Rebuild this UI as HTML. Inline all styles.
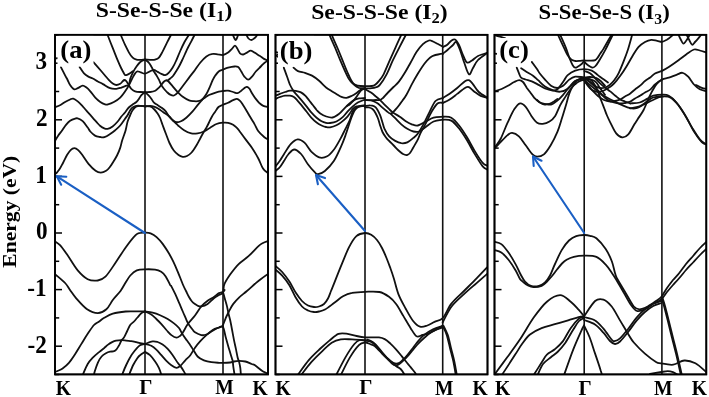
<!DOCTYPE html><html><head><meta charset="utf-8"><style>html,body{margin:0;padding:0;background:#fff;}svg{display:block;filter:blur(0.3px)}</style></head><body>
<svg width="709" height="397" viewBox="0 0 709 397" font-family="'Liberation Serif', serif" font-weight="bold">
<rect width="709" height="397" fill="#fff"/>
<defs><clipPath id="clipa"><rect x="55.0" y="34.8" width="213.0" height="339.59999999999997"/></clipPath><clipPath id="clipb"><rect x="275.5" y="34.8" width="212.0" height="339.59999999999997"/></clipPath><clipPath id="clipc"><rect x="494.5" y="34.8" width="211.79999999999995" height="339.59999999999997"/></clipPath></defs>
<g clip-path="url(#clipa)" fill="none" stroke="#111" stroke-width="1.8" stroke-linejoin="round" stroke-linecap="round">
<path d="M60.9,67.1C61.6,68.5 64.0,73.1 65.1,75.3C66.2,77.5 66.8,78.4 67.6,80.0C68.4,81.6 69.0,83.5 70.1,85.0C71.1,86.5 72.6,88.7 73.9,89.2C75.2,89.7 76.2,88.8 77.7,88.2C79.2,87.6 81.2,85.8 82.7,85.7C84.2,85.6 85.2,86.7 86.5,87.6C87.8,88.5 88.8,89.6 90.3,91.3C91.8,93.0 93.6,95.8 95.3,97.6C97.0,99.4 98.7,100.9 100.3,102.0C101.9,103.1 103.7,103.9 105.0,104.3C106.3,104.7 106.5,104.8 108.0,104.4C109.5,104.0 111.9,103.1 113.9,102.0C115.9,100.9 118.3,99.4 120.2,97.6C122.1,95.8 123.8,93.4 125.2,91.3C126.6,89.2 128.0,87.3 128.8,85.2C129.7,83.1 129.7,80.6 130.3,78.5C131.0,76.4 131.7,74.8 132.7,72.8C133.7,70.8 135.2,68.3 136.5,66.5C137.8,64.7 138.9,63.2 140.3,62.0C141.7,60.8 144.2,59.9 145.0,59.5"/>
<path d="M107.6,35.0C108.4,37.1 110.9,43.4 112.6,47.6C114.3,51.8 116.2,56.8 117.6,60.2C119.0,63.6 120.1,66.0 121.1,68.0C122.1,70.0 122.8,71.3 123.5,72.5C124.2,73.7 124.5,74.8 125.2,75.1C125.9,75.4 126.7,74.9 127.5,74.6C128.3,74.3 129.1,73.8 130.0,73.2C130.9,72.7 132.2,71.6 132.7,71.3"/>
<path d="M79.6,67.1C80.3,68.1 82.5,71.8 84.0,73.4C85.5,75.0 86.9,75.8 88.4,76.6C89.9,77.4 91.2,77.7 92.8,78.5C94.4,79.3 96.1,80.6 97.8,81.5C99.5,82.4 100.9,83.0 102.9,84.1C105.0,85.2 107.8,87.4 110.1,88.2C112.3,89.0 114.5,88.9 116.4,88.8C118.3,88.7 119.7,88.1 121.4,87.6C123.1,87.1 125.2,86.1 126.4,85.7C127.6,85.3 128.0,86.1 128.8,85.2C129.6,84.3 130.4,82.0 131.2,80.5C132.0,79.0 132.8,77.3 133.5,76.0C134.2,74.7 134.8,73.6 135.5,72.8C136.2,72.0 136.7,71.4 137.5,71.3C138.3,71.2 139.1,71.7 140.3,72.1C141.6,72.5 143.4,73.8 145.0,73.7C146.6,73.6 148.5,71.9 150.0,71.3C151.5,70.7 152.5,69.9 153.8,70.0C155.1,70.1 156.3,71.3 157.6,71.9C158.9,72.5 160.1,73.3 161.4,73.8C162.7,74.3 163.9,75.3 165.2,75.1C166.4,74.9 167.7,73.9 168.9,72.6C170.2,71.3 171.5,69.4 172.7,67.5C173.9,65.6 174.8,63.7 176.0,61.0C177.2,58.3 178.6,54.7 180.0,51.5C181.4,48.3 183.0,44.8 184.5,42.0C186.0,39.2 188.1,36.2 188.8,35.0"/>
<path d="M93.4,62.1C94.1,62.9 96.4,65.5 97.8,67.1C99.2,68.7 100.4,70.1 101.6,71.5C102.8,72.9 103.8,74.1 105.0,75.5C106.2,76.9 107.7,78.7 109.0,80.1C110.3,81.5 111.9,82.9 113.1,83.7C114.3,84.5 115.2,85.0 116.4,85.0C117.6,85.0 119.2,84.4 120.2,83.8C121.2,83.2 122.0,81.9 122.7,81.3C123.4,80.7 123.6,80.0 124.2,80.0C124.8,80.0 125.4,80.1 126.2,81.0C127.0,81.9 128.0,83.9 128.8,85.2C129.7,86.5 130.2,87.8 131.3,88.8C132.4,89.8 133.6,90.8 135.1,91.3C136.6,91.8 138.5,91.9 140.2,92.0C141.8,92.1 143.3,92.1 145.0,92.1C146.7,92.1 148.5,92.2 150.2,92.0C151.9,91.8 153.8,91.4 155.3,90.7C156.8,90.0 157.9,88.6 159.0,87.6C160.1,86.6 160.8,85.5 161.6,84.5C162.4,83.5 163.3,82.2 164.1,81.5C164.9,80.8 165.7,80.3 166.4,80.3C167.1,80.3 167.4,80.5 168.5,81.5C169.6,82.5 171.2,84.6 172.7,86.4C174.2,88.2 176.0,90.4 177.7,92.1C179.4,93.8 180.9,95.4 182.8,96.8C184.7,98.2 187.2,99.6 189.1,100.3C191.0,101.0 192.5,101.0 194.0,101.2C195.5,101.4 196.8,101.4 198.0,101.2C199.2,101.0 200.2,100.6 201.4,100.0C202.6,99.4 203.9,98.3 205.2,97.5C206.5,96.7 207.1,95.9 209.0,95.0C210.9,94.1 214.1,93.0 216.4,92.3C218.7,91.6 221.1,91.3 223.0,91.0C224.9,90.7 226.4,90.5 228.1,90.7C229.8,90.9 231.5,91.6 233.1,92.0C234.7,92.4 236.1,93.4 237.5,93.2C238.9,93.0 240.0,91.6 241.3,90.7C242.6,89.8 244.2,88.2 245.1,87.6C246.0,87.0 246.3,86.7 247.0,86.9C247.7,87.1 248.7,87.8 249.5,88.8C250.3,89.8 250.9,91.5 252.0,93.2C253.1,94.9 254.5,97.2 255.8,98.9C257.1,100.6 258.4,102.2 259.6,103.3C260.9,104.4 261.9,105.2 263.3,105.8C264.7,106.4 267.2,106.9 268.0,107.1"/>
<path d="M120.8,35.0C121.5,36.7 123.8,42.2 125.2,45.1C126.6,48.0 127.8,50.5 129.0,52.6C130.2,54.7 131.4,56.5 132.7,57.7C133.9,58.9 135.0,59.2 136.5,59.6C138.0,60.0 140.2,59.8 141.6,59.8C143.0,59.8 143.6,59.5 145.0,59.5C146.4,59.5 148.4,59.8 150.1,59.8C151.8,59.8 153.6,60.0 155.1,59.6C156.6,59.2 157.6,59.1 158.9,57.7C160.2,56.3 161.4,53.7 162.7,51.4C163.9,49.1 165.0,46.5 166.4,43.8C167.8,41.1 170.2,36.5 170.9,35.0"/>
<path d="M145.0,59.5C145.6,60.0 147.8,61.5 148.8,62.7C149.9,63.9 150.5,65.0 151.3,66.5C152.2,68.0 153.1,70.0 153.9,71.5C154.8,73.0 155.6,73.9 156.4,75.3C157.2,76.7 158.1,78.0 158.9,79.7C159.7,81.4 160.6,83.7 161.4,85.2C162.2,86.7 163.0,87.7 163.9,88.8C164.8,89.9 165.9,91.1 167.0,92.1C168.1,93.1 169.0,94.0 170.2,94.6C171.4,95.2 172.8,95.8 174.0,95.5C175.2,95.2 176.2,94.2 177.7,92.6C179.2,91.0 180.9,88.5 182.8,86.0C184.7,83.5 187.1,80.3 189.1,77.6C191.1,74.9 193.2,72.5 195.0,70.0C196.8,67.5 198.3,65.0 200.2,62.7C202.1,60.4 204.3,57.9 206.4,56.4C208.5,54.9 210.8,54.2 212.7,53.9C214.6,53.5 216.1,54.1 217.8,54.3C219.5,54.5 221.3,55.3 223.0,55.0C224.7,54.7 226.6,53.6 228.1,52.6C229.6,51.6 230.8,50.0 231.9,48.9C233.1,47.8 234.1,45.7 235.0,45.7C235.9,45.7 236.7,47.6 237.5,48.9C238.3,50.2 239.1,52.4 240.0,53.3C240.9,54.2 242.0,54.6 243.2,54.5C244.4,54.4 245.8,53.2 247.0,52.6C248.2,52.0 249.4,50.7 250.7,50.7C251.9,50.7 253.0,51.8 254.5,52.6C256.0,53.5 258.0,54.8 259.6,55.8C261.2,56.8 262.6,58.1 264.0,58.9C265.4,59.7 267.3,60.5 268.0,60.8"/>
<path d="M194.5,35.0C194.0,36.0 192.4,39.2 191.3,41.3C190.2,43.4 189.1,45.4 188.0,47.5C186.9,49.6 186.0,51.8 185.0,54.0C184.0,56.2 183.0,58.4 182.0,60.5C181.0,62.6 180.0,64.7 179.0,66.5C178.0,68.3 177.0,69.9 176.0,71.5C175.0,73.1 174.0,74.8 173.0,76.0C172.0,77.2 171.0,77.8 170.2,78.5C169.4,79.2 168.6,79.9 168.0,80.2C167.4,80.5 166.7,80.3 166.4,80.3"/>
<path d="M232.5,34.0C232.8,34.8 234.0,37.5 234.5,38.5C235.0,39.5 235.2,40.0 235.6,40.0C236.0,40.0 236.3,39.5 236.8,38.5C237.3,37.5 238.1,34.8 238.4,34.0"/>
<path d="M246.0,34.0C246.4,34.8 247.6,37.5 248.5,38.5C249.4,39.5 250.5,40.0 251.4,40.0C252.3,40.0 253.3,39.0 254.0,38.5C254.7,38.0 255.2,37.6 255.8,36.9C256.4,36.1 257.5,34.5 257.9,34.0"/>
<path d="M268.0,60.8C267.4,61.1 265.8,61.8 264.6,62.7C263.4,63.7 262.3,65.0 260.8,66.5C259.3,68.0 257.3,69.8 255.8,71.5C254.3,73.2 253.3,75.2 252.0,76.6C250.7,78.0 249.5,79.7 248.2,79.7C246.9,79.7 245.6,78.0 244.4,76.6C243.2,75.2 242.3,73.1 241.3,71.5C240.3,69.9 239.3,67.9 238.2,67.1C237.0,66.3 236.1,66.4 234.4,66.5C232.7,66.6 230.0,67.2 228.1,67.7C226.2,68.2 224.5,69.0 223.0,69.6C221.5,70.2 220.3,70.2 219.0,71.2C217.7,72.2 216.4,74.0 215.3,75.5C214.2,77.0 213.4,78.7 212.5,80.5C211.6,82.3 211.0,84.2 210.0,86.5C209.0,88.8 207.8,91.6 206.4,94.0C205.0,96.4 202.9,98.9 201.4,100.7C199.9,102.5 199.1,103.3 197.6,105.1C196.1,106.9 194.5,109.3 192.6,111.4C190.7,113.5 188.2,116.1 186.3,117.7C184.4,119.3 182.6,120.5 181.0,121.2C179.4,122.0 177.9,122.4 176.5,122.2C175.1,122.0 173.9,121.2 172.7,120.2C171.4,119.2 170.2,117.8 169.0,116.2C167.8,114.7 166.5,112.3 165.3,110.9C164.1,109.5 162.8,108.7 161.6,107.7C160.3,106.8 159.1,106.0 157.8,105.2C156.5,104.4 155.1,103.8 154.0,102.7C152.9,101.7 152.4,100.2 151.5,98.9C150.6,97.6 149.4,96.2 148.3,95.1C147.2,94.0 145.6,92.6 145.0,92.1"/>
<path d="M145.0,106.3C145.9,106.2 148.7,106.0 150.2,106.0C151.7,106.0 152.7,106.2 154.0,106.6C155.3,107.0 156.5,107.6 158.0,108.5C159.5,109.4 161.2,110.7 163.0,112.0C164.8,113.3 167.3,114.8 169.0,116.2C170.7,117.6 171.5,119.0 173.0,120.5C174.5,122.0 176.0,123.6 177.8,125.2C179.7,126.8 181.8,128.8 184.1,130.2C186.3,131.6 189.1,132.9 191.3,133.4C193.6,133.9 195.5,133.7 197.6,133.4C199.7,133.1 201.8,132.4 203.9,131.5C206.0,130.6 208.1,128.9 210.2,127.7C212.3,126.5 214.4,124.8 216.5,124.0C218.6,123.2 220.9,122.9 222.8,122.7C224.7,122.5 226.4,122.5 228.1,122.8C229.8,123.1 231.6,123.8 233.1,124.7C234.6,125.6 235.8,126.9 236.9,127.9C238.0,129.0 238.0,129.1 239.4,131.0C240.8,132.9 243.5,136.6 245.6,139.4C247.7,142.2 249.8,144.6 251.9,147.7C254.0,150.8 256.3,154.7 258.2,158.2C260.1,161.7 261.4,166.1 263.0,168.6C264.6,171.1 267.2,172.3 268.0,173.1"/>
<path d="M268.0,139.4C267.4,139.1 266.0,138.7 264.4,137.3C262.8,135.9 259.8,133.2 258.2,131.0C256.6,128.8 255.8,126.3 254.5,124.1C253.2,121.9 251.9,119.9 250.7,117.8C249.4,115.7 248.2,113.6 247.0,111.5C245.8,109.4 244.4,107.0 243.2,105.2C242.0,103.4 241.1,101.8 240.0,100.8C238.9,99.8 238.1,99.0 236.9,98.9C235.8,98.8 234.6,99.6 233.1,100.2C231.6,100.8 229.8,101.9 228.1,102.7C226.4,103.5 224.6,104.1 223.0,104.8C221.4,105.5 219.8,105.8 218.5,107.0C217.2,108.2 216.1,110.4 215.0,112.0C213.9,113.6 213.0,114.8 212.0,116.5C211.0,118.2 209.9,120.6 209.0,122.5C208.1,124.4 207.3,126.0 206.4,127.7C205.5,129.4 204.3,131.0 203.3,132.8C202.3,134.6 201.3,136.4 200.2,138.5C199.0,140.6 197.8,143.2 196.4,145.5C195.0,147.8 193.2,150.8 191.6,152.5C190.0,154.2 188.5,155.3 187.0,156.0C185.5,156.7 184.1,157.0 182.7,156.8C181.3,156.6 180.0,156.1 178.5,155.0C177.0,153.9 175.3,152.5 173.8,150.5C172.3,148.5 170.8,145.8 169.5,143.0C168.2,140.2 167.2,137.0 166.0,134.0C164.8,131.0 163.6,127.7 162.6,125.0C161.6,122.3 160.9,119.9 160.1,118.0C159.3,116.1 158.6,115.0 157.6,113.5C156.6,112.0 155.2,110.2 153.9,109.0C152.7,107.8 151.6,107.0 150.1,106.5C148.6,106.0 145.8,106.3 145.0,106.3"/>
<path d="M145.0,106.3C144.2,106.2 141.6,105.8 140.2,105.8C138.8,105.8 137.7,105.7 136.4,106.4C135.1,107.1 133.7,108.7 132.6,110.2C131.5,111.7 130.9,113.4 130.1,115.3C129.3,117.2 128.3,119.1 127.6,121.6C126.9,124.0 126.3,127.7 125.7,130.0C125.1,132.3 124.6,133.4 124.0,135.2C123.4,137.0 122.6,138.9 122.0,141.0C121.4,143.1 121.0,145.5 120.2,147.9C119.4,150.3 118.2,153.2 117.0,155.5C115.8,157.8 114.5,160.0 113.2,162.0C112.0,164.0 110.7,166.0 109.5,167.5C108.3,169.0 107.5,170.0 106.1,170.8C104.6,171.7 102.5,172.6 100.8,172.6C99.0,172.6 97.6,172.3 95.6,170.8C93.5,169.3 90.8,166.5 88.5,163.8C86.2,161.1 83.7,156.8 82.0,154.5C80.3,152.2 79.5,151.2 78.2,150.1C76.9,149.0 75.7,148.2 74.4,148.2C73.1,148.2 71.8,148.9 70.6,150.1C69.3,151.3 68.2,153.1 66.9,155.2C65.7,157.3 64.4,160.3 63.1,162.7C61.8,165.1 60.5,167.8 59.3,169.6C58.1,171.4 56.5,172.9 56.0,173.6"/>
<path d="M145.0,92.1C144.4,92.6 142.4,94.0 141.4,95.1C140.4,96.2 139.7,97.8 138.9,98.9C138.1,100.1 137.5,101.1 136.4,102.0C135.3,102.9 133.9,103.6 132.6,104.5C131.3,105.4 130.1,106.2 128.8,107.5C127.5,108.8 126.2,111.0 125.0,112.5C123.8,114.0 122.6,115.0 121.4,116.5C120.2,118.0 119.2,119.8 117.7,121.5C116.2,123.2 114.3,125.3 112.6,126.5C110.9,127.7 109.1,128.6 107.6,128.9C106.1,129.2 105.1,128.7 103.8,128.2C102.5,127.7 101.0,126.5 100.0,125.7C99.0,124.9 99.0,124.8 97.8,123.5C96.6,122.2 94.5,119.7 92.8,117.8C91.1,115.9 89.4,114.0 87.7,112.1C86.0,110.2 84.4,108.2 82.7,106.4C81.0,104.6 79.3,102.7 77.7,101.4C76.1,100.1 74.6,98.9 73.3,98.6C72.0,98.3 71.5,98.9 70.1,99.5C68.7,100.1 66.8,101.0 65.1,102.0C63.4,103.0 61.7,104.4 60.0,105.2C58.3,106.0 55.8,106.8 55.0,107.1"/>
<path d="M55.0,140.9C55.5,140.1 56.8,137.8 58.0,136.0C59.2,134.2 61.1,131.9 62.4,130.0C63.7,128.1 64.7,126.3 66.0,124.8C67.3,123.3 68.6,121.8 70.1,120.8C71.6,119.8 73.9,119.0 75.2,118.6C76.5,118.2 76.5,118.0 77.7,118.4C79.0,118.8 81.0,119.7 82.7,121.2C84.4,122.7 86.4,125.8 87.7,127.5C89.0,129.2 89.1,130.2 90.3,131.5C91.5,132.8 93.4,134.7 95.0,135.6C96.6,136.5 98.4,136.7 100.0,137.0C101.6,137.3 102.7,137.7 104.4,137.2C106.1,136.7 108.3,135.2 110.1,134.0C111.9,132.8 113.5,131.6 115.2,130.2C116.9,128.8 118.5,127.5 120.2,125.5C121.9,123.5 124.0,120.2 125.2,118.5C126.5,116.8 126.9,116.3 127.7,115.0C128.5,113.7 129.3,111.8 130.1,110.5C130.9,109.2 131.5,108.3 132.6,107.5C133.7,106.7 135.1,106.2 136.4,105.9C137.7,105.6 138.8,105.7 140.2,105.8C141.6,105.9 144.2,106.2 145.0,106.3"/>
<path d="M55.0,241.4C55.8,242.0 57.9,242.9 60.0,245.2C62.1,247.5 64.6,251.1 67.6,255.3C70.5,259.5 74.3,266.4 77.7,270.4C81.1,274.4 84.4,277.5 87.7,279.2C91.0,280.9 94.8,280.9 97.8,280.5C100.8,280.1 102.5,279.6 105.4,276.7C108.4,273.8 112.2,267.6 115.5,262.8C118.8,258.0 122.2,252.3 125.5,247.7C128.8,243.1 133.2,237.5 135.6,235.1C138.0,232.7 138.4,233.4 140.0,233.0C141.6,232.6 143.2,232.5 145.0,232.6C146.8,232.7 148.7,232.6 150.6,233.3C152.5,234.1 154.6,235.3 156.6,237.1C158.6,238.9 160.7,241.2 162.7,243.9C164.7,246.6 166.9,250.1 168.7,253.0C170.4,255.9 171.7,258.2 173.2,261.3C174.7,264.4 176.2,267.9 177.8,271.8C179.5,275.8 181.7,281.8 183.1,285.0C184.5,288.2 185.0,289.0 186.0,291.0C187.0,293.0 188.0,295.2 189.0,297.0C190.0,298.8 191.0,300.3 192.0,301.5C193.0,302.7 194.0,303.3 195.0,304.0C196.0,304.7 196.9,305.4 198.0,305.8C199.1,306.2 199.7,306.7 201.3,306.4C202.9,306.1 205.5,305.3 207.6,303.9C209.7,302.5 212.0,299.7 213.9,298.2C215.8,296.7 217.5,295.9 219.0,295.0C220.5,294.1 222.1,294.3 223.0,292.5C223.9,290.7 223.1,287.4 224.3,284.4C225.5,281.4 228.0,277.6 230.3,274.3C232.7,271.0 235.4,267.3 238.4,264.3C241.4,261.3 245.2,259.2 248.5,256.2C251.8,253.2 256.1,248.3 258.5,246.1C260.9,243.9 261.4,243.8 263.0,243.0C264.6,242.2 267.2,241.4 268.0,241.1"/>
<path d="M55.0,274.2C56.7,275.7 62.6,280.4 65.1,283.0C67.6,285.6 68.1,287.4 70.0,290.0C71.9,292.6 73.6,295.4 76.4,298.6C79.2,301.8 83.5,306.9 87.1,309.3C90.7,311.7 94.6,313.1 97.8,313.1C101.0,313.1 103.9,311.5 106.4,309.3C108.9,307.1 110.5,303.1 112.8,300.0C115.1,296.9 118.5,293.8 120.5,291.0C122.5,288.2 123.4,286.1 125.0,283.5C126.6,280.9 128.3,277.7 130.3,275.5C132.3,273.3 134.4,271.4 136.8,270.4C139.2,269.4 141.9,269.4 145.0,269.3C148.1,269.2 152.4,269.2 155.1,269.6C157.8,270.0 159.4,270.7 161.2,271.8C163.0,272.9 164.2,274.2 165.7,276.4C167.2,278.6 169.2,283.4 170.2,285.0C171.1,286.6 170.6,284.8 171.4,286.3C172.2,287.8 173.9,291.2 175.2,293.9C176.5,296.6 177.7,299.8 179.0,302.7C180.3,305.6 181.5,308.6 182.8,311.5C184.1,314.4 185.6,318.1 186.6,320.3C187.6,322.6 188.0,323.4 189.1,325.0C190.2,326.6 191.9,328.8 192.9,330.0C193.9,331.2 193.6,331.4 195.0,332.3C196.4,333.2 199.4,334.7 201.3,335.1C203.2,335.5 204.5,335.2 206.4,334.5C208.3,333.8 210.6,331.9 212.7,330.7C214.8,329.5 217.3,328.1 219.0,327.5C220.7,326.9 221.9,325.3 223.0,327.0C224.1,328.7 224.9,334.4 225.8,337.6C226.7,340.8 227.6,343.9 228.3,346.4C229.0,348.9 229.6,350.6 230.2,352.7C230.8,354.8 231.7,357.6 232.1,359.0C232.5,360.4 232.5,359.7 232.7,361.0C232.9,362.3 233.0,364.3 233.3,366.6C233.6,368.9 234.4,373.6 234.6,375.0"/>
<path d="M145.0,311.5C143.6,311.5 139.6,311.4 136.4,311.4C133.2,311.4 129.6,311.1 125.7,311.5C121.8,311.9 116.4,312.6 112.8,313.6C109.2,314.7 106.6,316.5 104.3,317.8C102.0,319.1 100.9,320.2 99.2,321.4C97.5,322.6 95.9,322.9 94.0,325.0C92.1,327.1 89.8,330.7 87.7,333.8C85.6,336.9 83.5,340.5 81.4,343.9C79.3,347.3 77.3,350.9 75.2,354.0C73.1,357.1 71.0,360.4 68.9,362.8C66.8,365.2 64.5,367.1 62.6,368.5C60.7,369.9 58.8,370.4 57.5,371.0C56.2,371.6 55.4,371.8 55.0,371.9"/>
<path d="M145.0,311.5C144.3,311.8 142.2,312.5 141.0,313.5C139.8,314.5 138.7,316.2 137.5,317.5C136.3,318.8 135.2,320.2 134.0,321.5C132.8,322.8 131.3,323.4 130.2,325.0C129.1,326.6 128.2,329.0 127.2,331.0C126.2,333.0 125.1,335.6 124.2,337.1C123.3,338.6 122.6,338.8 121.7,340.1C120.8,341.5 119.9,343.7 119.1,345.2C118.2,346.7 117.4,348.2 116.6,349.2C115.8,350.2 115.2,350.8 114.1,351.2C113.0,351.6 111.4,351.4 110.1,351.7C108.8,352.0 107.4,352.4 106.0,353.2C104.6,354.0 103.0,354.9 101.6,356.5C100.2,358.1 98.9,360.3 97.8,362.8C96.7,365.3 95.3,369.6 94.7,371.6C94.1,373.6 94.1,374.4 94.0,375.0"/>
<path d="M82.7,375.0C83.5,373.2 86.0,366.9 87.7,364.0C89.4,361.1 90.9,359.7 92.8,357.7C94.7,355.7 97.2,353.7 99.1,352.1C101.0,350.5 102.5,349.4 104.0,348.2C105.5,346.9 106.8,345.6 108.1,344.6C109.4,343.6 110.8,342.8 112.1,342.1C113.4,341.4 114.5,340.9 116.1,340.6C117.7,340.3 120.0,340.1 121.7,340.1C123.4,340.1 124.6,340.4 126.2,340.6C127.8,340.8 129.5,340.9 131.2,341.1C132.9,341.4 134.8,341.8 136.3,342.1C137.8,342.5 138.6,342.9 140.0,343.2C141.4,343.5 144.2,343.8 145.0,343.9"/>
<path d="M122.0,375.0C122.7,373.3 124.8,368.0 126.2,365.0C127.6,362.0 128.8,359.5 130.2,357.2C131.5,354.9 132.7,353.2 134.3,351.2C135.9,349.2 138.2,346.4 140.0,345.2C141.8,344.0 144.2,344.1 145.0,343.9"/>
<path d="M129.0,375.0C129.7,373.3 131.8,367.8 133.2,365.0C134.6,362.2 136.2,359.8 137.3,358.2C138.4,356.6 138.7,356.2 140.0,355.2C141.3,354.1 144.2,352.4 145.0,351.9"/>
<path d="M145.0,311.5C146.3,311.7 150.1,312.1 152.6,312.7C155.1,313.3 157.6,314.2 160.1,315.3C162.6,316.4 165.4,317.6 167.7,319.0C170.0,320.4 172.1,321.9 174.0,323.4C175.9,324.9 177.6,326.3 179.0,328.0C180.4,329.7 180.9,331.8 182.2,333.8C183.5,335.8 185.2,338.2 186.6,340.1C187.9,342.0 189.2,343.5 190.3,345.2C191.5,346.9 192.3,348.3 193.5,350.2C194.7,352.1 195.9,354.8 197.6,356.5C199.3,358.2 201.6,359.4 203.9,360.3C206.2,361.2 208.9,361.8 211.4,362.2C213.9,362.6 217.1,362.7 219.0,362.8C220.9,362.9 220.7,362.9 222.6,362.8C224.5,362.8 228.3,362.7 230.2,362.5C232.1,362.3 232.5,361.8 234.0,361.5C235.5,361.2 237.1,360.9 239.0,360.9C240.9,360.9 243.2,361.0 245.3,361.5C247.4,362.0 250.0,363.4 251.6,364.0C253.2,364.6 253.1,364.0 255.0,365.3C256.9,366.6 260.9,370.2 263.1,371.6C265.3,373.0 267.2,373.2 268.0,373.5"/>
<path d="M145.0,311.5C146.1,312.0 149.4,313.4 151.3,314.6C153.2,315.9 154.6,317.4 156.3,319.0C158.0,320.6 159.7,322.3 161.4,324.1C163.1,325.9 164.7,328.2 166.4,330.0C168.1,331.8 169.7,333.8 171.4,335.1C173.1,336.4 175.0,337.5 176.5,337.6C178.0,337.7 179.2,336.5 180.3,335.7C181.4,334.9 181.6,334.5 182.8,332.6C184.1,330.7 185.8,327.0 187.8,324.1C189.8,321.2 192.8,318.4 195.0,315.5C197.2,312.6 199.2,308.9 201.3,306.4C203.4,303.9 205.5,302.3 207.6,300.7C209.7,299.1 212.0,298.2 213.9,296.9C215.8,295.6 217.5,293.9 219.0,293.1C220.5,292.3 222.1,292.4 223.0,291.9C223.9,291.4 224.3,290.3 224.6,290.0"/>
<path d="M145.0,343.9C146.1,344.2 149.4,344.9 151.3,345.8C153.2,346.8 154.6,348.0 156.3,349.6C158.0,351.2 159.7,353.3 161.4,355.2C163.1,357.1 164.7,359.2 166.4,360.9C168.1,362.6 169.7,364.1 171.4,365.3C173.1,366.5 175.0,367.7 176.5,367.8C178.0,367.9 178.8,367.1 180.3,365.9C181.8,364.6 183.6,362.1 185.3,360.3C187.0,358.5 188.7,357.3 190.3,355.2C191.9,353.1 193.4,350.0 195.0,347.7C196.6,345.4 198.2,343.5 200.1,341.4C202.0,339.3 204.3,337.0 206.4,335.1C208.5,333.2 210.6,331.3 212.7,330.0C214.8,328.7 217.3,328.1 219.0,327.5C220.7,326.9 222.3,326.5 223.0,326.3"/>
<path d="M145.0,343.9C146.3,343.5 150.5,341.7 152.6,341.4C154.7,341.1 155.9,341.5 157.6,342.0C159.3,342.5 160.9,343.4 162.6,344.5C164.3,345.6 166.0,347.1 167.7,348.9C169.4,350.7 171.0,352.9 172.7,355.2C174.4,357.5 176.4,361.0 177.7,362.8C179.0,364.6 179.2,364.4 180.3,365.9C181.4,367.4 183.1,370.1 184.0,371.6C184.9,373.1 185.6,374.4 185.9,375.0"/>
<path d="M145.0,351.9C145.8,352.4 148.3,353.6 150.0,355.2C151.7,356.8 153.6,359.4 155.1,361.5C156.6,363.6 157.8,365.6 158.9,367.8C160.0,370.1 161.0,373.8 161.4,375.0"/>
<path d="M268.0,274.0C266.8,274.8 263.2,277.4 261.0,279.0C258.8,280.6 257.4,281.8 255.0,283.8C252.6,285.9 249.3,289.0 246.6,291.3C243.9,293.6 241.2,295.5 239.0,297.6C236.8,299.7 234.9,301.8 233.3,303.9C231.7,306.0 230.4,308.7 229.6,310.2C228.8,311.7 228.9,311.4 228.3,312.7C227.7,314.0 226.5,316.1 225.8,317.8C225.1,319.5 224.4,321.5 223.9,322.8C223.4,324.1 223.0,325.1 222.8,325.5"/>
<path d="M223.0,292.0C223.4,293.4 224.5,297.7 225.2,300.1C225.9,302.5 226.5,304.3 227.0,306.4C227.5,308.5 227.8,310.4 228.3,312.7C228.8,315.0 229.6,317.4 230.2,320.3C230.8,323.2 231.5,326.7 232.1,330.0C232.7,333.3 233.4,337.0 234.0,340.1C234.6,343.2 235.3,346.0 235.9,348.9C236.5,351.8 237.2,355.6 237.7,357.7C238.2,359.8 238.6,359.8 239.0,361.5C239.4,363.2 240.0,365.6 240.3,367.8C240.6,370.1 240.8,373.8 240.9,375.0"/>
<path d="M55.0,58.5L58.0,58.2"/>
</g>
<g clip-path="url(#clipb)" fill="none" stroke="#111" stroke-width="1.8" stroke-linejoin="round" stroke-linecap="round">
<path d="M283.8,67.6C284.4,69.2 286.2,74.4 287.3,77.3C288.4,80.2 289.1,82.8 290.1,85.0C291.1,87.2 292.2,89.0 293.3,90.7C294.4,92.4 295.6,93.5 297.0,95.1C298.4,96.7 299.8,98.3 301.4,100.2C303.0,102.1 304.8,104.3 306.5,106.4C308.2,108.5 309.8,110.8 311.5,112.7C313.2,114.6 314.9,116.4 316.6,117.8C318.3,119.2 320.0,120.5 321.6,121.3C323.2,122.1 324.6,122.5 326.0,122.8C327.4,123.1 328.4,123.2 330.1,123.0C331.8,122.8 334.3,122.5 336.4,121.5C338.5,120.5 340.8,118.8 342.7,117.1C344.6,115.4 346.0,113.2 347.7,111.4C349.4,109.6 351.1,107.9 352.8,106.4C354.5,104.9 355.8,103.8 357.8,102.6C359.8,101.4 363.8,100.0 365.0,99.5"/>
<path d="M275.5,95.7C276.2,95.4 278.4,94.5 280.0,93.9C281.6,93.3 283.4,92.5 285.1,92.0C286.8,91.5 288.7,90.9 290.1,90.7C291.5,90.5 292.0,90.6 293.3,90.7C294.6,90.8 296.4,91.0 297.7,91.3C299.0,91.6 300.1,91.9 301.4,92.6C302.6,93.3 303.9,94.4 305.2,95.7C306.5,97.0 307.7,98.7 309.0,100.2C310.3,101.8 311.5,103.4 312.8,105.0C314.1,106.6 315.4,108.6 316.6,110.0C317.9,111.4 318.7,112.4 320.3,113.5C321.9,114.6 324.2,115.8 326.3,116.5C328.4,117.2 330.5,117.9 332.6,117.5C334.7,117.1 337.0,115.4 338.9,114.0C340.8,112.6 342.3,110.6 344.0,108.9C345.7,107.2 347.3,105.4 349.0,103.9C350.7,102.4 352.3,101.0 354.0,100.1C355.7,99.2 357.3,98.8 359.1,98.4C360.9,98.1 364.0,98.1 365.0,98.0"/>
<path d="M275.5,98.9C276.2,98.6 278.4,97.5 280.0,97.0C281.6,96.5 283.4,95.9 285.1,95.7C286.8,95.5 288.6,95.5 290.1,95.7C291.6,95.9 292.6,96.2 293.9,97.0C295.2,97.8 296.4,99.4 297.7,100.8C298.9,102.2 299.9,103.4 301.4,105.2C302.9,107.0 304.8,109.4 306.5,111.5C308.2,113.6 309.8,116.0 311.5,117.8C313.2,119.6 314.9,121.2 316.6,122.5C318.3,123.8 320.0,124.8 321.6,125.5C323.2,126.2 324.6,126.7 326.0,127.0C327.4,127.3 328.4,127.6 330.1,127.3C331.8,127.0 334.5,126.2 336.4,125.3C338.3,124.4 339.7,123.4 341.4,122.1C343.1,120.8 345.0,119.3 346.5,117.7C348.0,116.1 349.2,114.2 350.3,112.7C351.4,111.2 351.8,110.0 352.8,108.9C353.9,107.9 354.6,106.9 356.6,106.4C358.6,105.9 363.6,105.8 365.0,105.7"/>
<path d="M293.5,67.6C294.2,68.2 296.0,70.2 297.9,71.1C299.8,72.0 302.6,72.2 305.0,72.9C307.4,73.7 309.6,74.3 312.0,75.6C314.4,76.9 316.8,78.8 319.1,80.8C321.5,82.8 324.1,85.8 326.1,87.5C328.2,89.2 329.7,89.9 331.4,91.0C333.1,92.1 334.7,93.0 336.4,94.0C338.1,95.0 339.7,96.3 341.4,96.9C343.1,97.5 344.8,98.0 346.5,97.8C348.2,97.6 349.8,96.8 351.5,96.0C353.2,95.2 355.0,94.1 356.6,93.0C358.2,91.9 359.6,90.3 361.0,89.5C362.4,88.7 364.3,88.2 365.0,88.0"/>
<path d="M329.0,34.0C330.0,36.3 333.2,43.2 335.1,47.6C337.0,52.0 338.5,56.2 340.2,60.2C341.9,64.2 343.7,68.3 345.2,71.5C346.7,74.7 347.8,77.1 349.0,79.1C350.2,81.1 351.1,82.2 352.5,83.3C353.9,84.4 355.5,85.2 357.6,85.7C359.7,86.2 362.6,86.2 365.0,86.2C367.4,86.2 370.1,86.2 371.8,86.0C373.5,85.8 374.1,85.6 375.2,84.8C376.3,84.0 377.2,83.2 378.6,81.4C380.0,79.7 381.8,77.8 383.6,74.3C385.4,70.8 387.6,65.2 389.6,60.7C391.6,56.2 393.7,51.6 395.7,47.1C397.7,42.6 400.7,36.2 401.7,34.0"/>
<path d="M331.3,34.0C332.3,36.3 335.6,43.6 337.5,48.0C339.4,52.4 341.0,56.5 342.6,60.5C344.2,64.5 345.9,68.8 347.3,72.0C348.7,75.2 349.8,77.8 351.0,80.0C352.2,82.2 353.2,83.7 354.5,85.0C355.8,86.3 357.2,87.2 359.0,87.8C360.8,88.3 362.9,88.2 365.0,88.3C367.1,88.4 369.9,88.4 371.8,88.2C373.7,88.0 375.0,87.6 376.3,87.1C377.6,86.5 378.1,87.0 379.8,84.9C381.5,82.8 384.5,78.3 386.6,74.3C388.8,70.3 390.6,65.2 392.7,60.7C394.8,56.2 397.2,51.6 399.5,47.1C401.8,42.6 405.2,36.2 406.3,34.0"/>
<path d="M365.0,88.3C364.4,88.6 362.6,89.0 361.4,90.2C360.2,91.4 358.9,93.5 357.6,95.2C356.4,96.9 355.1,98.7 353.9,100.2C352.6,101.7 351.2,103.0 350.1,104.0C349.0,105.0 347.5,105.7 347.0,106.0"/>
<path d="M443.0,46.8C442.1,46.3 439.4,44.8 437.5,43.8C435.6,42.8 433.0,41.4 431.6,40.9C430.2,40.4 430.3,40.0 428.9,40.5C427.4,41.0 424.9,42.2 422.9,44.1C420.9,46.0 418.8,48.6 416.8,51.6C414.8,54.6 412.8,58.7 410.8,62.2C408.8,65.7 406.8,69.5 404.8,72.8C402.8,76.1 400.6,79.5 398.7,81.9C396.8,84.3 395.3,85.2 393.5,87.0C391.7,88.8 389.8,90.7 388.0,92.5C386.2,94.3 384.3,96.8 383.0,98.0C381.7,99.2 381.2,99.7 380.0,100.0C378.8,100.3 377.5,100.0 376.0,100.0C374.5,100.0 372.8,100.1 371.0,100.1C369.2,100.1 366.0,100.1 365.0,100.1"/>
<path d="M443.0,53.7C442.2,53.8 439.6,54.2 438.0,54.5C436.4,54.8 434.9,55.1 433.6,55.6C432.3,56.1 431.5,56.4 430.0,57.7C428.5,59.1 426.3,61.2 424.4,63.7C422.5,66.2 420.4,69.5 418.4,72.8C416.4,76.1 414.3,79.7 412.3,83.4C410.3,87.1 407.9,92.2 406.3,95.0C404.7,97.8 403.7,98.8 402.5,100.5C401.3,102.2 400.3,103.7 399.1,105.3C397.9,106.9 396.5,108.6 395.1,110.0C393.7,111.4 392.2,113.6 390.7,113.7C389.2,113.8 387.7,111.8 386.2,110.7C384.7,109.6 383.1,108.2 381.6,106.9C380.1,105.6 378.9,104.2 377.1,103.1C375.3,102.0 373.0,101.0 371.0,100.5C369.0,100.0 366.0,100.2 365.0,100.1"/>
<path d="M365.0,89.0C366.0,89.6 369.2,91.4 371.0,92.6C372.8,93.8 374.1,95.0 375.6,96.3C377.1,97.5 378.6,98.7 380.1,100.1C381.6,101.5 383.1,103.1 384.6,104.6C386.1,106.1 387.7,107.8 389.2,109.2C390.7,110.6 391.9,111.8 393.7,113.0C395.5,114.2 397.8,115.3 399.8,116.7C401.8,118.1 403.8,120.0 405.8,121.3C407.8,122.6 409.8,123.6 411.8,124.3C413.8,125.0 415.6,126.0 417.9,125.5C420.2,125.0 423.1,122.9 425.7,121.6C428.3,120.3 430.7,118.5 433.6,117.7C436.5,116.9 441.4,116.9 443.0,116.7"/>
<path d="M390.7,113.7C391.4,114.5 393.4,116.4 395.2,118.2C397.0,120.0 399.3,122.5 401.3,124.3C403.3,126.1 405.3,127.6 407.3,128.8C409.3,130.0 411.4,131.1 413.4,131.5C415.4,131.9 417.3,132.2 419.4,131.5C421.4,130.8 423.3,128.7 425.7,127.0C428.1,125.3 430.7,122.7 433.6,121.5C436.5,120.3 441.4,119.9 443.0,119.6"/>
<path d="M365.0,106.0C365.9,105.9 368.6,105.2 370.1,105.3C371.6,105.3 372.9,105.6 374.1,106.3C375.3,107.0 376.1,107.7 377.1,109.2C378.1,110.7 379.2,113.0 380.1,115.2C381.0,117.4 381.8,120.2 382.5,122.5C383.2,124.8 383.4,126.5 384.5,128.8C385.6,131.1 387.4,134.4 389.2,136.4C391.0,138.4 393.2,139.8 395.2,140.9C397.2,142.0 399.3,142.9 401.3,143.2C403.3,143.4 405.3,143.3 407.3,142.4C409.3,141.5 411.6,139.4 413.4,137.9C415.2,136.4 416.2,135.8 417.9,133.4C419.6,131.0 421.9,127.2 423.8,123.6C425.8,120.0 427.7,115.6 429.6,111.8C431.6,108.0 433.3,103.3 435.5,101.0C437.7,98.7 441.8,98.4 443.0,97.9"/>
<path d="M365.0,107.5C365.7,107.5 367.8,107.2 369.0,107.5C370.2,107.8 371.4,108.1 372.5,109.0C373.6,109.9 374.6,111.3 375.5,113.0C376.4,114.7 377.4,116.8 378.2,119.0C379.0,121.2 379.6,123.8 380.3,126.0C381.0,128.2 381.6,130.1 382.5,132.0C383.4,133.9 384.9,136.0 386.0,137.5C387.1,139.0 387.9,139.7 389.2,141.0C390.5,142.3 392.2,144.0 393.7,145.5C395.2,147.0 396.4,148.6 398.0,150.0C399.6,151.4 401.5,153.2 403.0,154.0C404.5,154.8 405.8,155.2 407.0,155.0C408.2,154.8 409.0,154.2 410.0,153.0C411.0,151.8 411.7,150.3 413.0,148.0C414.3,145.7 416.6,142.0 417.9,139.3C419.2,136.6 419.7,134.6 421.0,132.0C422.3,129.4 423.9,127.0 425.7,123.6C427.5,120.2 429.6,115.1 431.6,111.8C433.6,108.5 435.6,105.0 437.5,103.5C439.4,102.0 442.1,102.9 443.0,102.8"/>
<path d="M443.0,46.8C443.7,46.5 446.0,45.8 447.3,44.8C448.6,43.8 449.7,41.9 451.0,41.0C452.3,40.1 453.7,38.8 455.0,39.5C456.3,40.2 457.7,42.4 459.0,45.0C460.3,47.6 461.7,52.1 463.0,55.0C464.3,57.9 465.5,61.6 467.0,62.5C468.5,63.4 470.2,61.6 472.0,60.5C473.8,59.4 475.4,57.3 478.0,56.0C480.6,54.7 485.9,53.2 487.5,52.7"/>
<path d="M443.0,53.7C443.8,53.0 446.3,51.0 448.0,49.5C449.7,48.0 451.6,46.2 453.0,45.0C454.4,43.8 455.0,41.2 456.2,42.0C457.4,42.8 458.7,46.7 460.0,50.0C461.3,53.3 462.5,58.0 464.0,62.0C465.5,66.0 467.4,73.3 468.9,74.3C470.4,75.3 471.5,70.4 473.0,68.0C474.5,65.6 475.6,62.5 478.0,60.0C480.4,57.5 485.9,53.9 487.5,52.7"/>
<path d="M443.0,97.9C444.1,97.2 446.9,95.7 449.3,94.0C451.7,92.3 454.6,90.1 457.2,88.0C459.8,85.9 463.1,82.5 465.0,81.2C466.9,79.9 467.6,79.7 468.9,80.2C470.2,80.7 471.2,82.1 472.9,84.1C474.5,86.1 476.4,89.7 478.8,92.0C481.2,94.3 486.1,96.9 487.5,97.9"/>
<path d="M443.0,102.8C444.1,102.3 446.9,101.3 449.3,99.8C451.7,98.3 454.6,95.9 457.2,93.9C459.8,91.9 463.1,89.1 465.0,88.0C466.9,86.9 467.3,86.4 468.9,87.1C470.5,87.8 472.8,90.5 474.8,92.0C476.8,93.5 478.6,94.9 480.7,95.9C482.8,96.9 486.4,97.6 487.5,97.9"/>
<path d="M443.0,116.7C444.4,116.9 448.6,116.2 451.3,117.7C454.0,119.2 456.5,122.2 459.1,125.5C461.7,128.8 464.4,133.0 467.0,137.3C469.6,141.6 472.2,146.8 474.8,151.1C477.4,155.4 480.6,160.4 482.7,162.9C484.8,165.4 486.7,165.3 487.5,165.8"/>
<path d="M443.0,119.6C444.4,119.8 448.6,119.1 451.3,120.6C454.0,122.1 456.5,125.2 459.1,128.5C461.7,131.8 464.4,136.0 467.0,140.3C469.6,144.6 472.2,149.8 474.8,154.1C477.4,158.4 480.6,163.8 482.7,166.4C484.8,169.0 486.7,169.1 487.5,169.7"/>
<path d="M275.5,166.5C276.2,165.5 278.6,162.6 280.0,160.5C281.4,158.4 282.3,156.8 284.1,154.0C285.9,151.2 288.6,146.2 290.9,143.8C293.2,141.4 295.4,139.5 297.7,139.3C300.0,139.1 302.2,140.6 304.5,142.7C306.8,144.8 308.9,149.2 311.3,151.7C313.8,154.1 316.6,156.6 319.2,157.4C321.8,158.2 324.7,157.6 327.2,156.3C329.7,155.0 331.7,152.5 334.0,149.5C336.3,146.5 338.9,141.5 340.8,138.1C342.7,134.7 343.8,132.1 345.3,129.1C346.8,126.1 348.6,122.9 349.8,120.0C351.1,117.1 351.7,113.6 352.8,111.5C353.9,109.4 355.3,108.5 356.6,107.5C357.9,106.5 359.1,106.2 360.5,105.8C361.9,105.4 364.2,105.4 365.0,105.3"/>
<path d="M275.5,171.0C276.2,170.3 278.6,168.7 280.0,167.0C281.4,165.3 282.7,163.0 284.1,160.8C285.5,158.6 286.9,155.9 288.6,154.0C290.3,152.1 292.2,149.5 294.3,149.5C296.4,149.5 298.8,151.6 301.1,154.0C303.4,156.4 305.6,161.2 307.9,164.2C310.2,167.2 313.0,170.5 314.7,172.2C316.4,173.9 316.4,174.4 318.1,174.2C319.8,174.0 322.2,173.2 324.9,171.0C327.5,168.8 331.4,164.8 334.0,160.8C336.6,156.8 338.9,151.3 340.8,147.2C342.7,143.0 343.8,140.1 345.3,135.9C346.8,131.8 348.6,125.8 349.8,122.3C351.0,118.8 351.6,117.0 352.5,115.0C353.4,113.0 354.0,111.3 355.0,110.0C356.0,108.7 356.8,107.7 358.5,107.0C360.2,106.3 363.9,106.0 365.0,105.8"/>
<path d="M275.5,266.0C276.6,267.0 279.9,269.4 282.2,272.0C284.5,274.6 287.1,278.1 289.4,281.6C291.7,285.1 293.9,289.8 296.0,293.0C298.1,296.2 300.0,298.9 302.0,301.0C304.0,303.1 306.0,304.5 308.0,305.5C310.0,306.5 312.2,306.8 314.0,307.0C315.8,307.2 317.3,307.0 319.0,306.5C320.7,306.0 322.5,305.3 324.0,304.0C325.5,302.7 326.8,300.7 328.0,298.5C329.2,296.3 329.9,293.8 331.0,291.0C332.1,288.2 333.0,286.2 334.8,281.6C336.6,277.0 339.6,269.4 342.0,263.6C344.4,257.8 346.8,251.5 349.2,246.9C351.6,242.3 353.8,238.4 356.4,236.1C359.0,233.8 362.5,233.2 365.0,233.0C367.5,232.8 369.2,233.6 371.2,234.8C373.2,236.0 375.2,237.8 377.0,240.0C378.8,242.2 380.4,245.0 382.0,248.0C383.6,251.0 385.1,254.6 386.5,258.0C387.9,261.4 389.2,265.0 390.5,268.5C391.8,272.0 392.7,274.7 394.0,279.0C395.3,283.3 396.6,289.4 398.5,294.4C400.4,299.3 403.3,304.3 405.7,308.7C408.1,313.1 410.5,317.7 412.9,320.7C415.3,323.7 417.7,325.9 420.1,326.7C422.5,327.5 424.9,326.3 427.3,325.5C429.7,324.7 431.9,323.1 434.5,321.9C437.1,320.6 440.0,321.1 442.8,318.0C445.6,314.9 447.9,308.1 451.4,303.6C454.9,299.1 459.8,295.2 464.0,291.0C468.2,286.8 472.7,282.4 476.6,278.4C480.5,274.4 485.7,268.9 487.5,267.0"/>
<path d="M275.5,269.6C276.6,270.6 279.9,273.0 282.2,275.6C284.5,278.2 287.2,281.6 289.4,285.2C291.6,288.8 293.3,293.4 295.4,297.0C297.5,300.6 299.9,304.2 302.0,306.5C304.1,308.8 306.0,309.6 308.0,310.5C310.0,311.4 312.2,311.8 314.0,312.0C315.8,312.2 317.2,311.9 319.0,311.5C320.8,311.1 322.5,310.9 325.0,309.5C327.5,308.1 331.0,305.3 334.0,303.1C337.0,300.9 340.0,298.0 343.0,296.3C346.0,294.6 348.4,293.6 352.1,292.9C355.8,292.1 360.4,291.9 365.0,291.8C369.6,291.7 375.4,291.2 379.4,292.0C383.4,292.8 386.2,294.8 389.0,296.8C391.8,298.8 393.7,300.8 396.1,304.0C398.5,307.2 400.9,311.9 403.3,315.9C405.7,319.9 408.3,324.5 410.5,327.9C412.7,331.3 414.5,335.1 416.5,336.3C418.5,337.5 420.7,335.4 422.5,335.0C424.3,334.6 424.9,334.9 427.3,333.9C429.7,332.9 434.3,330.5 436.9,329.1C439.5,327.8 441.7,326.4 442.7,325.8"/>
<path d="M442.7,322.5C444.1,319.9 447.8,311.4 451.4,306.7C454.9,302.0 459.8,298.0 464.0,294.1C468.2,290.2 472.7,286.5 476.6,283.1C480.5,279.7 485.7,275.2 487.5,273.6"/>
<path d="M297.7,375.0C299.6,372.5 305.2,364.2 309.0,359.8C312.8,355.4 317.0,351.7 320.4,348.5C323.8,345.3 326.4,343.1 329.4,340.6C332.4,338.2 335.5,334.9 338.5,333.8C341.5,332.7 344.6,333.4 347.6,333.8C350.6,334.2 353.7,335.4 356.6,336.0C359.5,336.6 362.6,337.2 365.0,337.4C367.4,337.6 368.8,337.4 371.1,337.4C373.4,337.4 376.7,337.1 379.0,337.4C381.3,337.7 382.8,338.1 384.7,339.1C386.6,340.1 388.5,341.9 390.4,343.6C392.3,345.3 394.1,347.2 396.0,349.3C397.9,351.4 400.0,354.0 401.7,356.1C403.4,358.2 404.7,359.9 406.2,361.8C407.7,363.7 409.3,365.5 410.8,367.4C412.3,369.3 414.4,371.7 415.3,373.0C416.2,374.3 415.9,374.7 416.0,375.0"/>
<path d="M301.1,375.0C302.8,372.9 307.7,366.1 311.3,362.1C314.9,358.1 319.2,354.0 322.6,350.8C326.0,347.6 328.7,344.7 331.7,342.8C334.7,340.9 337.4,340.0 340.8,339.4C344.2,338.8 348.1,339.3 352.1,339.4C356.1,339.5 362.2,340.1 365.0,340.2C367.8,340.3 367.4,339.6 368.8,340.0C370.2,340.4 371.8,341.3 373.3,342.5C374.8,343.7 376.4,345.3 377.9,347.0C379.4,348.7 380.9,350.9 382.4,352.7C383.9,354.5 385.5,356.3 387.0,357.8C388.5,359.3 390.2,360.9 391.5,361.8C392.8,362.8 393.6,363.3 394.9,363.5C396.2,363.7 398.1,363.5 399.4,362.9C400.7,362.3 401.5,361.3 402.8,360.0C404.1,358.7 405.9,356.8 407.4,355.0C408.9,353.2 410.3,351.4 411.9,349.3C413.5,347.2 415.0,344.9 417.0,342.5C419.0,340.1 421.4,337.1 424.1,334.9C426.8,332.7 430.0,330.7 433.1,329.2C436.2,327.7 441.1,326.4 442.7,325.8"/>
<path d="M336.2,375.0C337.7,372.1 342.3,362.8 345.3,357.6C348.3,352.4 351.9,346.9 354.4,344.0C356.8,341.1 358.2,340.5 360.0,340.0C361.8,339.5 363.4,340.6 365.0,340.8C366.6,341.0 368.3,340.7 369.9,341.3C371.5,341.9 373.0,342.9 374.5,344.2C376.0,345.5 377.5,347.5 379.0,349.3C380.5,351.1 382.0,353.3 383.5,355.0C385.0,356.7 386.6,358.0 388.1,359.5C389.6,361.0 391.5,363.1 392.6,364.0C393.7,364.9 393.9,365.1 394.9,365.2C395.8,365.3 397.0,365.3 398.3,364.6C399.6,363.9 401.3,362.4 402.8,361.0C404.3,359.6 405.9,358.2 407.4,356.5C408.9,354.8 410.4,352.9 412.0,351.0C413.6,349.1 415.0,347.2 417.0,345.0C419.0,342.8 421.4,340.3 424.1,338.0C426.8,335.7 430.0,332.8 433.1,331.0C436.2,329.2 441.1,328.1 442.7,327.5"/>
<path d="M340.8,375.0C342.3,372.1 346.8,362.6 349.8,357.6C352.8,352.6 356.4,347.6 358.9,345.1C361.4,342.6 363.1,342.7 365.0,342.5C366.9,342.3 368.4,343.4 370.0,344.0C371.6,344.6 373.3,345.1 374.6,346.0C375.9,346.9 376.3,347.6 378.0,349.3C379.7,351.0 382.6,354.1 384.7,356.0C386.8,357.9 388.5,359.3 390.4,361.0C392.3,362.7 394.3,364.7 396.0,366.0C397.7,367.3 399.3,367.7 400.6,369.0C401.9,370.3 403.4,372.7 404.0,373.7C404.6,374.7 404.4,374.8 404.5,375.0"/>
<path d="M442.7,325.8C443.4,327.3 445.5,331.1 446.7,334.9C447.9,338.7 449.0,344.0 450.1,348.5C451.2,353.0 452.6,357.7 453.5,362.1C454.4,366.5 455.4,372.9 455.8,375.0"/>
<path d="M443.5,325.8C444.2,327.3 446.4,331.1 447.7,334.9C449.0,338.7 450.0,344.0 451.1,348.5C452.2,353.0 453.6,357.7 454.5,362.1C455.4,366.5 456.4,372.9 456.8,375.0"/>
<path d="M275.5,52.2L278.5,52.6"/>
<path d="M278.5,54.3C278.1,54.5 276.2,55.0 276.2,55.5C276.2,56.0 278.1,56.8 278.5,57.0"/>
</g>
<g clip-path="url(#clipc)" fill="none" stroke="#111" stroke-width="1.8" stroke-linejoin="round" stroke-linecap="round">
<path d="M516.7,67.6C517.1,68.6 518.5,72.2 519.2,73.9C519.9,75.6 520.1,76.7 521.1,77.6C522.1,78.5 523.7,78.9 525.5,79.5C527.3,80.1 529.7,80.6 531.8,81.4C533.9,82.2 535.9,83.4 538.1,84.6C540.3,85.8 542.6,87.5 545.0,88.5C547.4,89.5 550.6,90.3 552.6,90.5C554.6,90.7 555.8,90.2 557.0,89.5C558.2,88.8 558.9,87.5 560.1,86.0C561.3,84.5 562.7,82.3 564.0,80.5C565.3,78.7 565.8,76.8 567.7,75.1C569.6,73.4 572.4,71.6 575.2,70.6C578.0,69.6 581.5,69.1 584.3,69.1C587.1,69.1 589.5,69.6 591.8,70.6C594.1,71.6 595.9,73.6 597.9,75.1C599.9,76.6 602.2,78.4 603.9,79.6C605.6,80.8 607.3,82.0 608.0,82.5"/>
<path d="M521.1,68.2C522.0,68.8 524.7,70.8 526.7,72.0C528.7,73.2 531.1,74.3 533.0,75.7C534.9,77.1 536.1,78.4 538.1,80.2C540.1,82.0 542.6,84.8 545.0,86.5C547.4,88.2 550.1,89.3 552.6,90.2C555.1,91.1 557.6,92.0 560.1,91.7C562.6,91.5 565.2,90.5 567.7,88.7C570.2,87.0 573.2,82.8 575.2,81.2C577.2,79.6 578.5,79.5 580.0,79.0C581.5,78.5 583.6,78.2 584.3,78.1"/>
<path d="M531.8,61.9C532.6,63.0 535.4,66.8 536.8,68.8C538.2,70.8 538.6,72.0 540.0,73.8C541.4,75.6 543.2,77.6 545.0,79.6C546.8,81.6 549.0,84.3 551.0,85.7C553.0,87.1 555.1,88.0 557.1,88.0C559.1,88.0 561.1,87.1 563.1,85.7C565.1,84.3 567.2,81.1 569.2,79.6C571.2,78.1 572.7,77.0 575.2,76.6C577.7,76.2 581.8,77.3 584.3,77.4C586.8,77.5 588.0,76.9 590.0,77.0C592.0,77.1 594.6,77.4 596.4,78.1C598.2,78.8 599.5,79.9 600.9,81.2C602.3,82.5 604.3,85.0 605.0,85.7"/>
<path d="M495.5,91.0C496.5,90.7 499.5,89.9 501.6,89.0C503.7,88.1 505.8,87.0 507.9,85.8C510.0,84.6 512.3,82.9 514.2,82.0C516.1,81.1 517.7,80.2 519.2,80.2C520.7,80.2 521.8,80.8 523.0,82.0C524.2,83.2 525.5,85.9 526.7,87.7C528.0,89.5 529.2,91.0 530.5,92.7C531.8,94.4 532.8,96.2 534.3,97.8C535.8,99.4 537.5,101.3 539.3,102.3C541.1,103.3 543.0,103.4 545.0,103.8C547.0,104.2 549.0,105.1 551.0,104.6C553.0,104.1 555.1,102.4 557.1,100.8C559.1,99.2 561.1,97.1 563.1,94.8C565.1,92.5 567.2,89.5 569.2,87.2C571.2,84.9 572.5,82.5 575.0,81.0C577.5,79.5 582.8,78.5 584.3,78.0"/>
<path d="M557.6,34.0C558.6,36.3 562.2,44.1 563.9,47.6C565.6,51.1 566.4,53.2 567.7,55.2C569.0,57.2 570.2,58.8 571.5,59.8C572.8,60.8 573.8,60.8 575.3,61.0C576.8,61.2 578.8,60.9 580.3,60.8C581.8,60.7 582.4,60.5 584.0,60.5C585.6,60.5 588.3,60.8 590.2,60.7C592.1,60.6 594.1,60.6 595.3,60.1C596.5,59.6 596.8,58.8 597.6,57.7C598.4,56.6 599.3,55.0 600.3,53.5C601.3,52.0 602.0,51.2 603.6,48.6C605.2,46.0 608.3,40.4 609.7,38.0C611.1,35.6 611.6,34.7 612.0,34.0"/>
<path d="M559.8,34.0C560.8,36.3 564.2,43.5 565.8,47.6C567.4,51.7 568.5,55.6 569.6,58.5C570.8,61.4 571.8,63.7 572.7,65.2C573.6,66.7 574.3,67.4 575.2,67.6C576.1,67.8 576.9,67.1 578.0,66.5C579.1,65.9 580.6,64.8 581.6,64.0C582.6,63.2 583.2,61.5 584.0,61.5C584.8,61.5 585.5,63.2 586.5,64.0C587.5,64.8 589.0,65.9 590.0,66.5C591.0,67.1 591.8,67.7 592.7,67.6C593.6,67.5 594.4,67.2 595.5,66.0C596.6,64.8 597.5,63.4 599.1,60.7C600.7,58.1 603.2,53.9 605.2,50.1C607.2,46.3 609.8,40.7 611.2,38.0C612.6,35.3 613.1,34.7 613.5,34.0"/>
<path d="M495.5,146.5C496.4,145.2 498.8,142.5 500.8,138.5C502.8,134.5 505.3,127.6 507.6,122.7C509.9,117.8 512.3,112.3 514.4,109.1C516.5,105.9 518.2,103.8 520.1,103.4C522.0,103.0 523.8,104.7 525.7,106.8C527.6,108.9 529.5,113.2 531.4,115.9C533.3,118.6 535.2,121.4 537.1,122.7C539.0,124.0 540.6,124.0 542.7,123.8C544.8,123.6 547.4,122.8 549.5,121.5C551.6,120.2 553.4,118.6 555.2,115.9C557.0,113.2 558.6,108.1 560.1,105.3C561.6,102.5 562.7,101.0 564.0,99.0C565.3,97.0 566.5,95.0 567.7,93.2C569.0,91.4 570.2,89.5 571.5,88.0C572.8,86.5 574.0,85.3 575.2,84.2C576.5,83.1 577.5,82.3 579.0,81.5C580.5,80.7 583.4,79.8 584.3,79.5"/>
<path d="M495.5,147.6C496.4,146.7 498.8,144.0 500.8,141.9C502.8,139.8 505.7,136.6 507.6,135.1C509.5,133.6 510.2,132.7 512.1,132.9C514.0,133.1 516.6,134.2 518.9,136.3C521.2,138.4 523.4,142.3 525.7,145.3C528.0,148.3 530.6,152.5 532.5,154.4C534.4,156.3 535.2,156.7 537.1,156.7C539.0,156.7 541.6,156.3 543.9,154.4C546.2,152.5 548.4,149.1 550.7,145.3C553.0,141.5 555.6,136.2 557.5,131.7C559.4,127.2 560.6,122.5 562.0,118.1C563.4,113.6 564.9,108.7 566.0,105.0C567.1,101.3 567.7,98.5 568.5,96.0C569.3,93.5 569.9,92.0 570.7,90.2C571.5,88.4 572.5,86.5 573.5,85.0C574.5,83.5 575.6,82.2 576.7,81.2C577.8,80.2 578.7,79.5 580.0,79.0C581.3,78.5 582.6,78.0 584.3,78.1C586.0,78.2 588.6,78.5 590.3,79.6C592.0,80.7 593.2,82.4 594.5,84.5C595.8,86.6 597.0,89.5 598.1,92.1C599.2,94.7 600.0,97.3 601.0,100.0C602.0,102.7 603.2,105.6 604.2,108.2C605.2,110.8 606.0,113.2 607.0,115.5C608.0,117.8 608.7,119.3 610.2,122.3C611.7,125.3 614.2,130.9 616.2,133.4C618.2,135.9 620.3,137.2 622.3,137.4C624.3,137.6 626.3,136.6 628.3,134.4C630.3,132.2 632.8,126.9 634.4,124.3C636.0,121.7 636.3,121.4 637.8,119.0C639.3,116.6 641.7,113.7 643.6,110.0C645.5,106.3 647.5,100.6 649.4,96.6C651.3,92.6 653.7,88.4 655.2,86.0C656.7,83.6 657.4,83.1 658.5,82.0C659.6,80.9 661.4,80.0 662.0,79.6"/>
<path d="M537.1,100.0C537.6,100.4 538.9,101.8 540.0,102.5C541.1,103.2 542.7,104.2 543.9,104.5C545.1,104.8 545.9,104.5 547.0,104.3C548.1,104.1 549.5,103.9 550.7,103.4C551.9,102.9 552.9,102.2 554.0,101.5C555.1,100.8 556.9,99.4 557.5,99.0"/>
<path d="M584.0,80.0C585.0,80.8 588.0,83.3 590.0,85.0C592.0,86.7 593.7,88.2 596.1,90.1C598.5,91.9 601.5,94.4 604.2,96.1C606.9,97.8 609.2,98.7 612.2,100.2C615.2,101.7 619.3,103.9 622.3,105.2C625.3,106.5 627.9,107.7 630.3,108.2C632.6,108.7 634.0,108.9 636.4,108.2C638.8,107.5 641.8,105.5 644.5,104.2C647.2,102.9 649.6,101.6 652.5,100.2C655.4,98.8 660.1,96.8 661.6,96.1"/>
<path d="M678.2,34.0C678.6,34.8 679.6,37.4 680.5,39.0C681.4,40.6 682.4,43.4 683.3,43.7C684.2,44.0 685.1,42.1 686.0,41.0C686.9,39.9 687.8,38.2 688.5,37.0C689.2,35.8 689.8,34.5 690.0,34.0"/>
<path d="M686.2,34.0C686.7,34.9 688.0,37.7 689.0,39.5C690.0,41.3 691.1,44.3 692.1,44.7C693.1,45.1 694.0,43.0 695.0,42.0C696.0,41.0 696.8,40.2 697.9,38.9C699.0,37.6 701.1,34.8 701.8,34.0"/>
<path d="M630.0,103.4C631.6,103.2 636.8,103.3 639.7,102.5C642.6,101.7 645.2,99.7 647.5,98.6C649.8,97.5 650.9,96.3 653.3,95.7C655.7,95.1 659.4,94.7 662.0,94.7C664.6,94.7 666.4,94.4 668.8,95.7C671.2,97.0 673.9,99.4 676.5,102.5C679.1,105.6 681.7,109.9 684.3,114.1C686.9,118.3 689.5,123.5 692.1,127.7C694.7,131.9 697.5,136.6 699.8,139.3C702.1,142.1 705.0,143.4 706.0,144.2"/>
<path d="M630.0,108.3C631.6,108.0 636.8,107.5 639.7,106.3C642.6,105.1 645.2,102.5 647.5,101.0C649.8,99.5 650.9,98.2 653.3,97.5C655.7,96.8 659.1,96.5 662.0,96.5C664.9,96.5 668.0,96.1 670.7,97.6C673.5,99.1 675.9,102.2 678.5,105.4C681.1,108.6 683.6,112.6 686.2,117.0C688.8,121.4 691.4,127.4 694.0,131.6C696.6,135.8 699.8,140.1 701.8,142.2C703.8,144.3 705.3,143.9 706.0,144.2"/>
<path d="M696.0,85.0C697.0,85.5 700.1,87.2 701.8,87.9C703.5,88.6 705.3,88.7 706.0,88.9"/>
<path d="M494.5,241.7C495.6,242.1 499.0,242.3 501.3,244.1C503.6,245.9 506.1,249.2 508.5,252.6C510.9,256.0 513.8,261.0 515.8,264.6C517.8,268.2 518.9,271.2 520.4,274.0C521.9,276.8 523.2,279.5 525.0,281.5C526.8,283.5 528.7,285.2 531.0,285.9C533.3,286.6 536.7,286.5 539.0,285.9C541.3,285.3 543.2,284.2 545.0,282.5C546.8,280.8 548.3,278.6 550.0,275.5C551.7,272.4 553.0,268.2 555.0,264.0C557.0,259.8 559.4,254.0 561.7,250.1C564.0,246.2 566.6,242.8 569.0,240.5C571.4,238.2 573.7,237.0 576.2,236.1C578.7,235.2 581.9,235.1 584.2,235.0C586.5,234.9 588.0,235.2 590.0,235.8C592.0,236.4 593.8,236.1 596.4,238.3C599.0,240.5 603.1,245.2 605.7,249.1C608.3,253.0 610.4,257.5 611.9,261.5C613.4,265.5 614.1,270.1 615.0,273.0C615.9,275.9 615.5,275.5 617.2,278.8C619.0,282.1 622.7,288.1 625.5,292.7C628.3,297.3 631.5,303.7 633.8,306.5C636.1,309.3 637.1,309.3 639.4,309.3C641.7,309.3 644.9,307.9 647.7,306.5C650.5,305.1 653.8,302.6 656.0,301.0C658.2,299.4 659.4,299.2 661.2,297.0C663.0,294.8 665.0,290.8 667.0,288.0C669.0,285.2 671.0,282.4 673.0,280.0C675.0,277.6 676.7,276.2 678.9,273.5C681.1,270.8 683.6,267.0 686.0,264.0C688.4,261.0 691.2,258.2 693.5,255.5C695.8,252.8 697.9,250.2 700.0,248.0C702.1,245.8 705.2,243.0 706.3,242.0"/>
<path d="M494.5,250.1C495.6,250.5 499.0,251.0 501.3,252.6C503.6,254.2 506.1,256.8 508.5,259.8C510.9,262.8 513.9,267.5 515.8,270.7C517.7,273.9 518.8,277.1 520.0,279.0C521.2,280.9 521.8,280.8 523.1,281.9C524.4,283.0 526.2,284.6 528.0,285.5C529.8,286.4 531.4,287.1 533.7,287.2C536.0,287.3 539.4,286.8 541.6,285.9C543.8,284.9 545.3,283.1 547.0,281.5C548.7,279.9 550.3,278.0 552.0,276.0C553.7,274.0 555.3,271.6 557.0,269.5C558.7,267.4 560.4,265.1 562.0,263.5C563.6,261.9 564.6,260.9 566.6,259.8C568.6,258.7 570.9,257.6 573.8,256.9C576.7,256.2 580.4,255.7 584.2,255.7C588.0,255.7 592.8,255.4 596.4,256.9C600.0,258.4 603.1,261.9 605.7,264.6C608.3,267.3 610.0,270.3 611.9,273.0C613.8,275.7 615.0,277.7 617.0,281.0C619.0,284.3 621.7,289.0 624.0,293.0C626.3,297.0 628.8,302.0 631.0,305.0C633.2,308.0 634.7,310.3 637.0,311.0C639.3,311.7 642.2,310.5 644.9,309.3C647.6,308.1 650.5,305.4 653.2,303.8C655.9,302.2 658.9,301.5 661.2,299.5C663.5,297.5 665.0,294.4 667.0,292.0C669.0,289.6 671.0,287.2 673.0,285.0C675.0,282.8 676.7,281.0 678.9,278.5C681.1,276.0 683.6,272.8 686.0,270.0C688.4,267.2 691.2,264.5 693.5,262.0C695.8,259.5 697.9,257.2 700.0,255.0C702.1,252.8 705.2,250.0 706.3,249.0"/>
<path d="M494.5,374.5C496.6,371.6 502.9,363.2 507.2,357.3C511.5,351.4 516.0,345.4 520.4,338.8C524.8,332.2 529.3,323.8 533.7,317.6C538.1,311.4 542.5,305.4 546.9,301.7C551.3,297.9 556.1,295.1 560.1,295.1C564.1,295.1 567.6,299.3 570.7,301.7C573.8,304.1 576.4,307.3 578.6,309.7C580.8,312.1 583.1,315.2 584.0,316.3"/>
<path d="M501.9,375.0C504.1,371.6 511.9,359.8 515.2,354.6C518.6,349.4 519.5,347.4 522.0,344.0C524.5,340.6 526.7,337.1 530.0,334.5C533.3,331.9 537.5,329.9 541.6,328.2C545.7,326.5 550.4,325.5 554.8,324.2C559.2,322.9 564.1,321.5 568.1,320.3C572.1,319.1 576.0,317.8 578.6,317.1C581.2,316.4 583.1,316.4 584.0,316.3"/>
<path d="M533.7,375.0C535.0,372.9 539.4,366.0 541.6,362.6C543.8,359.2 544.7,356.8 546.9,354.6C549.1,352.4 552.1,351.5 554.8,349.3C557.4,347.1 560.1,344.9 562.8,341.4C565.4,337.9 568.1,331.9 570.7,328.2C573.3,324.4 576.4,320.8 578.6,318.9C580.8,317.0 583.1,317.1 584.0,316.8"/>
<path d="M537.6,375.0C538.5,373.2 540.8,366.9 543.0,364.0C545.2,361.1 548.5,359.3 550.9,357.3C553.3,355.3 555.1,354.4 557.5,352.0C559.9,349.6 562.8,346.4 565.4,342.7C568.0,338.9 571.0,333.1 573.3,329.5C575.6,325.9 577.2,322.9 579.0,321.0C580.8,319.1 583.2,318.5 584.0,318.0"/>
<path d="M564.1,375.0C565.6,370.7 570.4,356.7 573.3,349.3C576.2,341.9 579.5,334.8 581.3,330.8C583.1,326.8 583.5,326.4 584.0,325.5"/>
<path d="M584.0,316.3C585.9,313.8 591.9,303.8 595.1,301.0C598.3,298.2 600.6,298.7 603.4,299.6C606.2,300.5 608.9,303.0 611.7,306.5C614.5,310.0 617.2,315.8 620.0,320.4C622.8,325.0 626.0,330.5 628.3,334.2C630.6,337.9 631.0,339.3 633.8,342.5C636.6,345.7 641.2,350.4 644.9,353.6C648.6,356.8 653.3,360.3 656.0,361.9C658.7,363.5 658.1,362.8 661.0,363.3C663.9,363.8 669.3,365.2 673.2,364.7C677.1,364.2 680.6,360.7 684.3,360.5C688.0,360.3 691.7,361.4 695.4,363.3C699.1,365.2 704.5,370.6 706.3,372.0"/>
<path d="M584.0,317.0C585.9,317.6 591.9,318.4 595.1,320.4C598.3,322.3 600.6,325.5 603.4,328.7C606.2,331.9 609.9,337.6 611.7,339.7C613.6,341.8 613.1,341.3 614.5,341.1C615.9,340.9 617.7,340.5 620.0,338.4C622.3,336.3 625.5,332.2 628.3,328.7C631.1,325.2 633.8,320.8 636.6,317.6C639.4,314.4 642.1,311.6 644.9,309.3C647.7,307.0 650.5,305.2 653.2,303.8C655.9,302.4 659.9,301.5 661.2,301.0"/>
<path d="M584.0,320.0C585.8,320.8 591.8,322.4 595.0,324.5C598.2,326.6 600.9,329.9 603.4,332.7C605.9,335.4 608.1,339.1 610.0,341.0C611.9,342.9 613.3,343.9 615.0,344.0C616.7,344.1 617.8,343.6 620.0,341.5C622.2,339.4 625.5,335.2 628.3,331.7C631.1,328.2 633.8,323.9 636.6,320.6C639.4,317.3 642.1,314.4 644.9,312.0C647.7,309.6 650.5,307.5 653.2,306.0C655.9,304.5 659.9,303.5 661.2,303.0"/>
<path d="M584.0,325.5C584.9,327.4 587.6,332.3 589.5,337.0C591.4,341.7 593.2,348.1 595.1,353.6C597.0,359.1 599.5,366.6 600.6,370.2C601.8,373.8 601.8,374.2 602.0,375.0"/>
<path d="M650.0,373.8C651.7,373.5 657.0,372.6 660.0,372.2C663.0,371.8 665.5,371.2 667.7,371.2C669.9,371.2 671.3,371.6 673.0,372.2C674.7,372.8 677.2,374.5 678.0,375.0"/>
<path d="M661.6,298.2C662.0,299.5 663.0,302.3 664.0,306.0C665.0,309.7 666.4,315.2 667.7,320.4C669.0,325.6 670.4,331.5 671.8,337.0C673.2,342.5 674.6,347.8 676.0,353.6C677.4,359.4 679.3,368.0 680.1,371.6C680.9,375.2 680.7,374.4 680.8,375.0"/>
<path d="M662.6,298.2C663.0,299.5 664.0,302.3 665.0,306.0C666.0,309.7 667.4,315.2 668.7,320.4C670.0,325.6 671.4,331.5 672.8,337.0C674.2,342.5 675.6,347.8 677.0,353.6C678.4,359.4 680.3,368.0 681.1,371.6C681.9,375.2 681.7,374.4 681.8,375.0"/>
<path d="M584.3,78.0C586.1,78.5 592.4,79.7 594.9,81.2C597.4,82.7 597.7,84.9 599.4,87.2C601.1,89.5 604.1,93.5 605.0,94.8"/>
<path d="M632.4,34.0C631.6,36.7 629.3,45.4 627.8,50.1C626.3,54.8 624.8,58.4 623.3,62.2C621.8,66.0 620.3,69.8 618.8,72.8C617.3,75.8 615.7,78.3 614.2,80.3C612.7,82.3 611.2,83.7 609.7,84.9C608.2,86.1 606.8,87.0 605.2,87.5C603.6,88.0 601.7,88.2 600.0,88.0C598.3,87.8 596.7,87.0 595.0,86.0C593.3,85.0 591.8,83.3 590.0,82.0C588.2,80.7 585.2,78.7 584.3,78.0"/>
<path d="M673.6,34.0C673.1,34.5 671.8,35.9 670.7,36.9C669.6,37.9 668.2,39.0 666.8,39.8C665.3,40.6 663.6,41.6 662.0,41.8C660.4,42.0 659.0,41.1 657.2,40.8C655.4,40.5 653.3,39.6 651.3,39.8C649.3,40.0 647.1,40.8 645.0,42.0C642.9,43.2 640.5,44.7 638.4,47.1C636.3,49.5 634.4,52.9 632.4,56.2C630.4,59.5 628.3,63.4 626.3,66.7C624.3,70.0 622.3,73.0 620.3,75.8C618.3,78.6 616.0,81.5 614.2,83.4C612.4,85.3 611.4,85.9 609.7,87.1C608.0,88.3 606.0,89.7 604.0,90.5C602.0,91.3 600.0,92.1 598.0,92.0C596.0,91.9 593.7,91.0 592.0,90.0C590.3,89.0 589.3,87.7 588.0,86.0C586.7,84.3 584.9,81.0 584.3,80.0"/>
<path d="M706.0,52.5C705.0,52.2 701.8,51.0 699.8,50.5C697.8,50.0 696.3,48.9 694.0,49.5C691.7,50.1 688.8,52.6 686.2,54.4C683.6,56.2 681.4,58.1 678.5,60.2C675.6,62.3 671.5,65.2 668.8,67.0C666.0,68.8 664.3,69.8 662.0,70.9C659.7,72.0 656.9,72.4 655.0,73.5C653.1,74.6 652.2,76.0 650.5,77.3C648.8,78.5 646.7,79.7 645.0,81.0C643.3,82.3 642.1,84.0 640.4,85.4C638.7,86.8 636.7,88.2 635.0,89.5C633.3,90.8 632.0,92.2 630.3,93.4C628.6,94.6 626.7,95.5 625.0,96.5C623.3,97.5 621.9,98.8 620.2,99.5C618.5,100.2 616.7,100.7 615.0,101.0C613.3,101.3 612.0,101.7 610.2,101.5C608.4,101.3 606.0,100.9 604.0,100.0C602.0,99.1 600.0,97.7 598.0,96.0C596.0,94.3 593.7,91.8 592.0,90.0C590.3,88.2 589.3,86.5 588.0,85.0C586.7,83.5 584.9,81.7 584.3,81.0"/>
<path d="M706.0,91.2C705.0,90.9 701.8,90.4 699.8,89.3C697.8,88.2 695.9,86.6 694.0,84.5C692.1,82.4 690.1,78.7 688.2,76.7C686.3,74.8 684.4,73.1 682.4,72.8C680.4,72.5 678.8,74.0 676.5,74.8C674.2,75.6 671.2,76.9 668.8,77.7C666.4,78.5 664.3,78.5 662.0,79.6C659.7,80.7 656.9,82.9 655.0,84.5C653.1,86.1 652.2,88.1 650.5,89.4C648.8,90.7 646.7,91.5 645.0,92.5C643.3,93.5 642.1,94.5 640.4,95.5C638.7,96.5 636.7,97.5 635.0,98.5C633.3,99.5 632.0,100.8 630.3,101.5C628.6,102.2 626.7,102.7 625.0,103.0C623.3,103.3 622.0,103.6 620.2,103.5C618.4,103.4 616.0,103.1 614.0,102.5C612.0,101.9 610.0,101.2 608.0,100.0C606.0,98.8 604.0,97.0 602.0,95.0C600.0,93.0 598.0,90.2 596.0,88.0C594.0,85.8 592.0,83.7 590.0,82.0C588.0,80.3 585.2,78.7 584.3,78.0"/>
<path d="M584.3,71.0C585.2,71.4 588.2,72.1 590.0,73.3C591.8,74.5 593.3,76.3 595.0,78.0C596.7,79.7 598.4,81.8 600.1,83.4C601.8,85.0 603.3,86.2 605.0,87.5C606.7,88.8 608.5,90.1 610.2,91.4C611.9,92.7 613.3,94.2 615.0,95.5C616.7,96.8 618.5,98.5 620.2,99.5C621.9,100.5 623.3,100.8 625.0,101.5C626.7,102.2 629.4,103.2 630.3,103.5"/>
<path d="M495.5,35.5C496.2,35.7 498.4,36.1 500.0,36.6C501.6,37.1 504.2,37.9 505.0,38.2"/>
<path d="M494.5,53.6L497.5,53.8"/>
</g>
<rect x="55.0" y="34.8" width="213.0" height="339.6" fill="none" stroke="#000" stroke-width="1.7"/>
<line x1="145.0" y1="34.8" x2="145.0" y2="374.4" stroke="#111" stroke-width="1.6"/>
<line x1="223.0" y1="34.8" x2="223.0" y2="374.4" stroke="#111" stroke-width="1.6"/>
<line x1="55.0" y1="374.5" x2="59.2" y2="374.5" stroke="#000" stroke-width="1.5"/>
<line x1="55.0" y1="346.2" x2="62.0" y2="346.2" stroke="#000" stroke-width="1.5"/>
<line x1="55.0" y1="317.9" x2="59.2" y2="317.9" stroke="#000" stroke-width="1.5"/>
<line x1="55.0" y1="289.6" x2="62.0" y2="289.6" stroke="#000" stroke-width="1.5"/>
<line x1="55.0" y1="261.3" x2="59.2" y2="261.3" stroke="#000" stroke-width="1.5"/>
<line x1="55.0" y1="233.0" x2="62.0" y2="233.0" stroke="#000" stroke-width="1.5"/>
<line x1="55.0" y1="204.7" x2="59.2" y2="204.7" stroke="#000" stroke-width="1.5"/>
<line x1="55.0" y1="176.4" x2="62.0" y2="176.4" stroke="#000" stroke-width="1.5"/>
<line x1="55.0" y1="148.1" x2="59.2" y2="148.1" stroke="#000" stroke-width="1.5"/>
<line x1="55.0" y1="119.8" x2="62.0" y2="119.8" stroke="#000" stroke-width="1.5"/>
<line x1="55.0" y1="91.5" x2="59.2" y2="91.5" stroke="#000" stroke-width="1.5"/>
<line x1="55.0" y1="63.2" x2="62.0" y2="63.2" stroke="#000" stroke-width="1.5"/>
<line x1="55.0" y1="34.9" x2="59.2" y2="34.9" stroke="#000" stroke-width="1.5"/>
<rect x="275.5" y="34.8" width="212.0" height="339.6" fill="none" stroke="#000" stroke-width="1.7"/>
<line x1="365.0" y1="34.8" x2="365.0" y2="374.4" stroke="#111" stroke-width="1.6"/>
<line x1="442.7" y1="34.8" x2="442.7" y2="374.4" stroke="#111" stroke-width="1.6"/>
<line x1="275.5" y1="374.5" x2="279.7" y2="374.5" stroke="#000" stroke-width="1.5"/>
<line x1="275.5" y1="346.2" x2="282.5" y2="346.2" stroke="#000" stroke-width="1.5"/>
<line x1="275.5" y1="317.9" x2="279.7" y2="317.9" stroke="#000" stroke-width="1.5"/>
<line x1="275.5" y1="289.6" x2="282.5" y2="289.6" stroke="#000" stroke-width="1.5"/>
<line x1="275.5" y1="261.3" x2="279.7" y2="261.3" stroke="#000" stroke-width="1.5"/>
<line x1="275.5" y1="233.0" x2="282.5" y2="233.0" stroke="#000" stroke-width="1.5"/>
<line x1="275.5" y1="204.7" x2="279.7" y2="204.7" stroke="#000" stroke-width="1.5"/>
<line x1="275.5" y1="176.4" x2="282.5" y2="176.4" stroke="#000" stroke-width="1.5"/>
<line x1="275.5" y1="148.1" x2="279.7" y2="148.1" stroke="#000" stroke-width="1.5"/>
<line x1="275.5" y1="119.8" x2="282.5" y2="119.8" stroke="#000" stroke-width="1.5"/>
<line x1="275.5" y1="91.5" x2="279.7" y2="91.5" stroke="#000" stroke-width="1.5"/>
<line x1="275.5" y1="63.2" x2="282.5" y2="63.2" stroke="#000" stroke-width="1.5"/>
<line x1="275.5" y1="34.9" x2="279.7" y2="34.9" stroke="#000" stroke-width="1.5"/>
<rect x="494.5" y="34.8" width="211.8" height="339.6" fill="none" stroke="#000" stroke-width="1.7"/>
<line x1="584.2" y1="34.8" x2="584.2" y2="374.4" stroke="#111" stroke-width="1.6"/>
<line x1="661.9" y1="34.8" x2="661.9" y2="374.4" stroke="#111" stroke-width="1.6"/>
<line x1="494.5" y1="374.5" x2="498.7" y2="374.5" stroke="#000" stroke-width="1.5"/>
<line x1="494.5" y1="346.2" x2="501.5" y2="346.2" stroke="#000" stroke-width="1.5"/>
<line x1="494.5" y1="317.9" x2="498.7" y2="317.9" stroke="#000" stroke-width="1.5"/>
<line x1="494.5" y1="289.6" x2="501.5" y2="289.6" stroke="#000" stroke-width="1.5"/>
<line x1="494.5" y1="261.3" x2="498.7" y2="261.3" stroke="#000" stroke-width="1.5"/>
<line x1="494.5" y1="233.0" x2="501.5" y2="233.0" stroke="#000" stroke-width="1.5"/>
<line x1="494.5" y1="204.7" x2="498.7" y2="204.7" stroke="#000" stroke-width="1.5"/>
<line x1="494.5" y1="176.4" x2="501.5" y2="176.4" stroke="#000" stroke-width="1.5"/>
<line x1="494.5" y1="148.1" x2="498.7" y2="148.1" stroke="#000" stroke-width="1.5"/>
<line x1="494.5" y1="119.8" x2="501.5" y2="119.8" stroke="#000" stroke-width="1.5"/>
<line x1="494.5" y1="91.5" x2="498.7" y2="91.5" stroke="#000" stroke-width="1.5"/>
<line x1="494.5" y1="63.2" x2="501.5" y2="63.2" stroke="#000" stroke-width="1.5"/>
<line x1="494.5" y1="34.9" x2="498.7" y2="34.9" stroke="#000" stroke-width="1.5"/>
<g stroke="#1a5fc4" stroke-width="2.1" fill="none" stroke-linecap="round" stroke-linejoin="round"><line x1="145.0" y1="233.0" x2="56.8" y2="176.3"/><polyline points="61.2,184.7 56.8,176.3 66.3,176.8"/></g>
<g stroke="#1a5fc4" stroke-width="2.1" fill="none" stroke-linecap="round" stroke-linejoin="round"><line x1="365.0" y1="231.0" x2="316.0" y2="175.0"/><polyline points="317.9,184.3 316.0,175.0 325.0,178.1"/></g>
<g stroke="#1a5fc4" stroke-width="2.1" fill="none" stroke-linecap="round" stroke-linejoin="round"><line x1="584.2" y1="233.0" x2="533.0" y2="156.5"/><polyline points="533.7,166.0 533.0,156.5 541.5,160.7"/></g>
<rect x="57.5" y="35.8" width="36.0" height="30.700000000000003" fill="#fff"/>
<rect x="278" y="35.8" width="36" height="30.700000000000003" fill="#fff"/>
<rect x="497" y="38" width="34" height="28.5" fill="#fff"/>
<rect x="55.0" y="34.8" width="213.0" height="339.6" fill="none" stroke="#000" stroke-width="1.7"/>
<rect x="275.5" y="34.8" width="212.0" height="339.6" fill="none" stroke="#000" stroke-width="1.7"/>
<rect x="494.5" y="34.8" width="211.8" height="339.6" fill="none" stroke="#000" stroke-width="1.7"/>
<text transform="translate(95.80,16.56) scale(0.2369,0.2154)" font-size="100">S-Se-S-Se (I<tspan font-size="70" dy="22">1</tspan><tspan dy="-22">)</tspan></text>
<text transform="translate(311.20,18.56) scale(0.2369,0.2110)" font-size="100">Se-S-S-Se (I<tspan font-size="70" dy="22">2</tspan><tspan dy="-22">)</tspan></text>
<text transform="translate(538.57,19.45) scale(0.2275,0.2022)" font-size="100">S-Se-Se-S (I<tspan font-size="70" dy="22">3</tspan><tspan dy="-22">)</tspan></text>
<text transform="translate(60.36,57.97) scale(0.2670,0.2590)" font-size="100">(a)</text>
<text transform="translate(279.86,58.87) scale(0.2670,0.2590)" font-size="100">(b)</text>
<text transform="translate(499.23,58.22) scale(0.2670,0.2590)" font-size="100">(c)</text>
<text transform="translate(35.58,69.10) scale(0.2320,0.2430)" font-size="100">3</text>
<text transform="translate(36.00,125.93) scale(0.2320,0.2430)" font-size="100">2</text>
<text transform="translate(35.35,182.97) scale(0.2320,0.2430)" font-size="100">1</text>
<text transform="translate(36.00,239.05) scale(0.2320,0.2430)" font-size="100">0</text>
<text transform="translate(27.29,296.42) scale(0.2320,0.2430)" font-size="100">-1</text>
<text transform="translate(27.52,352.88) scale(0.2320,0.2430)" font-size="100">-2</text>
<text transform="translate(55.73,394.59) scale(0.1960,0.2135)" font-size="100">K</text>
<text transform="translate(139.36,394.44) scale(0.2080,0.2135)" font-size="100">Γ</text>
<text transform="translate(215.29,394.44) scale(0.1960,0.2135)" font-size="100">M</text>
<text transform="translate(252.46,394.79) scale(0.1960,0.2135)" font-size="100">K</text>
<text transform="translate(275.61,394.79) scale(0.1960,0.2135)" font-size="100">K</text>
<text transform="translate(359.36,394.44) scale(0.2080,0.2135)" font-size="100">Γ</text>
<text transform="translate(434.89,394.64) scale(0.1960,0.2135)" font-size="100">M</text>
<text transform="translate(472.56,394.64) scale(0.1960,0.2135)" font-size="100">K</text>
<text transform="translate(495.01,394.54) scale(0.1960,0.2135)" font-size="100">K</text>
<text transform="translate(578.61,394.69) scale(0.2080,0.2135)" font-size="100">Γ</text>
<text transform="translate(653.94,394.79) scale(0.1960,0.2135)" font-size="100">M</text>
<text transform="translate(691.86,394.79) scale(0.1960,0.2135)" font-size="100">K</text>
<text transform="translate(15.52,267.63) rotate(-90) scale(0.2156,0.1944)" font-size="100">Energy (eV)</text>
</svg></body></html>
